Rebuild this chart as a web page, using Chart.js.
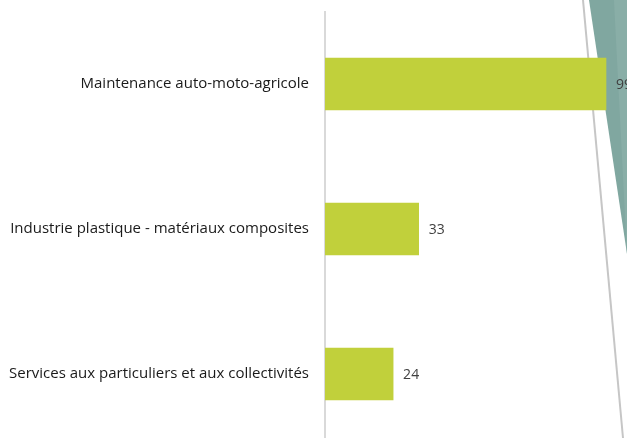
<!DOCTYPE html>
<html lang="fr">
<head>
<meta charset="utf-8">
<script src="https://cdn.jsdelivr.net/npm/chart.js@4.4.1/dist/chart.umd.min.js"></script>
<style>
  html, body { margin: 0; padding: 0; background: #fff; overflow: hidden; }
  #wrap { position: relative; width: 627px; height: 460px; }
  #deco { position: absolute; left: 0; top: 0; }
  #chart { position: absolute; left: 0; top: 0; }
</style>
</head>
<body>
<div id="wrap">
  <!-- décor de la diapo, derrière le graphique -->
  <svg id="deco" width="627" height="460">
    <polygon points="589,0 627,0 627,254" fill="#80A7A0"/>
    <polygon points="614,0 627,0 627,254" fill="#89AEA7"/>
    <line x1="583" y1="0" x2="623" y2="438" stroke="#c6c6c6" stroke-width="2"/>
  </svg>
  <canvas id="chart" width="627" height="460"></canvas>
</div>
<script>
// ── Données ─────────────────────────────────────────────
const categories = [
  'Maintenance auto-moto-agricole',
  'Industrie plastique - matériaux composites',
  'Services aux particuliers et aux collectivités'
];
const valeurs = [99, 33, 24];

const FONT = 'Open Sans';

// Étiquettes de valeur à droite des barres
const etiquettesValeurs = {
  id: 'etiquettesValeurs',
  afterDatasetsDraw(chart) {
    const ctx = chart.ctx;
    const meta = chart.getDatasetMeta(0);
    ctx.save();
    ctx.font = `14px "${FONT}"`;
    ctx.fillStyle = '#404040';
    ctx.textAlign = 'left';
    ctx.textBaseline = 'middle';
    meta.data.forEach((bar, i) => {
      ctx.fillText(String(valeurs[i]), bar.x + 10, bar.y + 1);
    });
    ctx.restore();
  }
};

new Chart(document.getElementById('chart').getContext('2d'), {
  type: 'bar',
  data: {
    labels: categories,
    datasets: [{
      data: valeurs,
      backgroundColor: '#C1D03B',
      barThickness: 52
    }]
  },
  options: {
    indexAxis: 'y',
    responsive: false,
    animation: false,
    layout: { padding: { top: 11.5, bottom: 13.5, left: 0, right: 0 } },
    plugins: {
      legend: { display: false },
      tooltip: { enabled: false }
    },
    scales: {
      x: {
        display: false,
        min: 0,
        max: 106.4
      },
      y: {
        // largeur fixe + pas de marge auto en haut/bas
        afterFit: s => { s.width = 325; s.paddingTop = 0; s.paddingBottom = 0; },
        grid: { display: false, drawTicks: false },
        border: { display: true, color: '#d9d9d9', width: 2 },
        ticks: {
          padding: 16,
          color: '#1a1a1a',
          font: { family: FONT, size: 15 }
        }
      }
    }
  },
  plugins: [etiquettesValeurs]
});
</script>
</body>
</html>
